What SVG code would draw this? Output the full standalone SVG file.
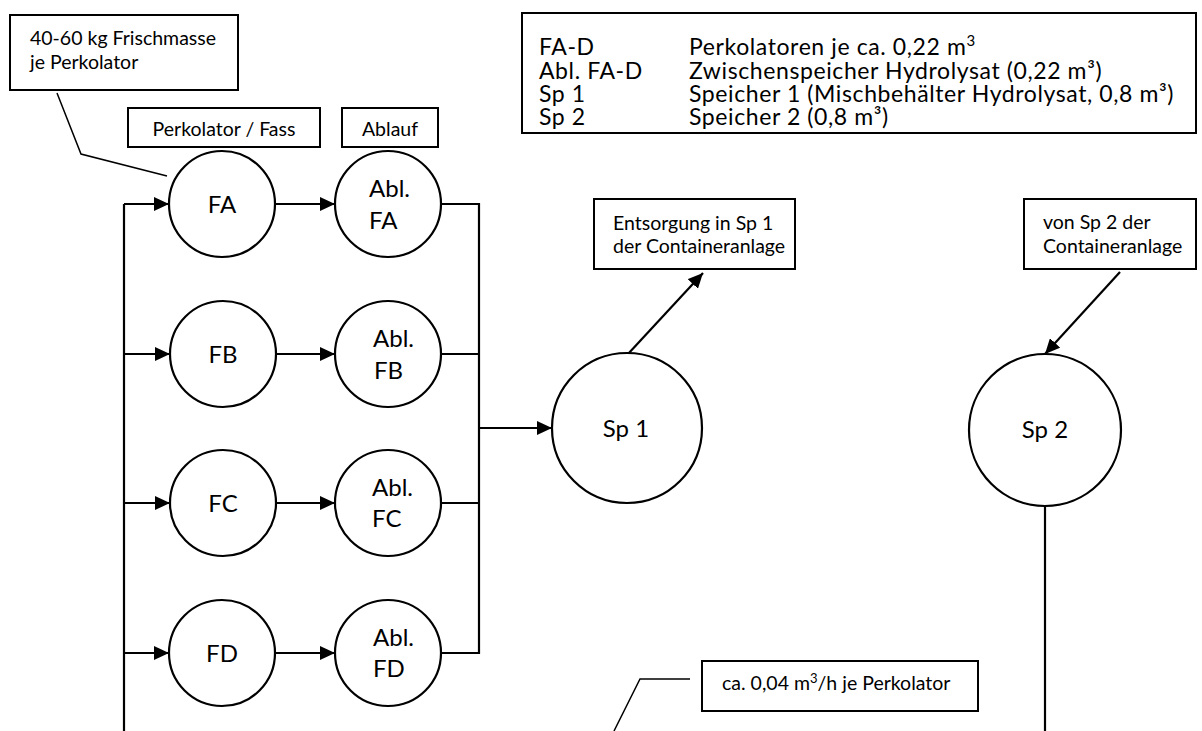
<svg xmlns="http://www.w3.org/2000/svg" width="1202" height="731" viewBox="0 0 1202 731">
<style>
.bx{fill:#fff;stroke:#000;stroke-width:2}
.nd{fill:#fff;stroke:#000;stroke-width:2.2}
.ln{fill:none;stroke:#000;stroke-width:2.2}
.lt{fill:none;stroke:#000;stroke-width:1.5}
text{font-family:Lato,"Liberation Sans",sans-serif;fill:#000}
.lb{font-size:19.5px}
.nt{font-size:24px}
.lg{font-size:23px;letter-spacing:0.6px}
.c{text-anchor:middle}
</style>
<defs>
<marker id="ah" markerUnits="userSpaceOnUse" markerWidth="16" markerHeight="14" refX="15" refY="7" orient="auto">
<path d="M0,0 L15,7 L0,14 Z" fill="#000"/>
</marker>
</defs>
<g id="connectors">
<polyline class="lt" points="57,93 81,154 167,176"/>
<polyline class="lt" points="690,679 640,679 614,731"/>
<line class="ln" x1="124" y1="204" x2="124" y2="731"/>
<line class="ln" x1="124" y1="204" x2="169" y2="204" marker-end="url(#ah)"/>
<line class="ln" x1="124" y1="354" x2="170" y2="354" marker-end="url(#ah)"/>
<line class="ln" x1="124" y1="503" x2="170" y2="503" marker-end="url(#ah)"/>
<line class="ln" x1="124" y1="653" x2="169" y2="653" marker-end="url(#ah)"/>
<line class="ln" x1="275" y1="204" x2="335" y2="204" marker-end="url(#ah)"/>
<line class="ln" x1="276" y1="354" x2="335" y2="354" marker-end="url(#ah)"/>
<line class="ln" x1="276" y1="503" x2="335" y2="503" marker-end="url(#ah)"/>
<line class="ln" x1="275" y1="653" x2="335" y2="653" marker-end="url(#ah)"/>
<polyline class="ln" points="441,204 479,204 479,653 441,653"/>
<line class="ln" x1="441" y1="354" x2="479" y2="354"/>
<line class="ln" x1="441" y1="503" x2="479" y2="503"/>
<line class="ln" x1="479" y1="428" x2="552" y2="428" marker-end="url(#ah)"/>
<line class="ln" x1="628" y1="354" x2="703" y2="273" marker-end="url(#ah)"/>
<line class="ln" x1="1120" y1="272" x2="1045" y2="354" marker-end="url(#ah)"/>
<line class="ln" x1="1045" y1="506" x2="1045" y2="731"/>
</g>
<g id="label-frischmasse">
<rect class="bx" x="10" y="15" width="228" height="75"/>
<text class="lb" x="30" y="45">40-60 kg Frischmasse</text>
<text class="lb" x="30" y="69">je Perkolator</text>
</g>
<g id="label-perkolator">
<rect class="bx" x="128" y="108" width="192" height="39"/>
<text class="lb c" x="224" y="136">Perkolator / Fass</text>
</g>
<g id="label-ablauf">
<rect class="bx" x="342" y="108" width="96" height="39"/>
<text class="lb c" x="390" y="136">Ablauf</text>
</g>
<g id="legend">
<rect class="bx" x="522" y="13" width="674" height="120"/>
<text class="lg" x="539" y="55">FA-D</text>
<text class="lg" x="689" y="55">Perkolatoren je ca. 0,22 m<tspan dy="-9" font-size="15">3</tspan></text>
<text class="lg" x="539" y="79">Abl. FA-D</text>
<text class="lg" x="689" y="79">Zwischenspeicher Hydrolysat (0,22 m³)</text>
<text class="lg" x="539" y="102">Sp 1</text>
<text class="lg" x="689" y="102">Speicher 1 (Mischbehälter Hydrolysat, 0,8 m³)</text>
<text class="lg" x="539" y="125">Sp 2</text>
<text class="lg" x="689" y="125">Speicher 2 (0,8 m³)</text>
</g>
<g id="FA"><circle class="nd" cx="222" cy="204" r="53"/><text class="nt c" x="222" y="213">FA</text></g>
<g id="FB"><circle class="nd" cx="223" cy="354" r="53"/><text class="nt c" x="223" y="363">FB</text></g>
<g id="FC"><circle class="nd" cx="223" cy="503" r="53"/><text class="nt c" x="223" y="512">FC</text></g>
<g id="FD"><circle class="nd" cx="222" cy="653" r="53"/><text class="nt c" x="222" y="662">FD</text></g>
<g id="AblFA"><circle class="nd" cx="388" cy="204" r="53"/><text class="nt" x="369" y="197">Abl.</text><text class="nt" x="369" y="229">FA</text></g>
<g id="AblFB"><circle class="nd" cx="388" cy="354" r="53"/><text class="nt" x="373" y="347">Abl.</text><text class="nt" x="374" y="379">FB</text></g>
<g id="AblFC"><circle class="nd" cx="388" cy="503" r="53"/><text class="nt" x="372" y="496">Abl.</text><text class="nt" x="372" y="527">FC</text></g>
<g id="AblFD"><circle class="nd" cx="388" cy="653" r="53"/><text class="nt" x="373" y="646">Abl.</text><text class="nt" x="373" y="677">FD</text></g>
<g id="Sp1"><circle class="nd" cx="627" cy="428" r="75"/><text class="nt c" x="626" y="437">Sp 1</text></g>
<g id="Sp2"><circle class="nd" cx="1045" cy="430" r="76"/><text class="nt c" x="1045" y="438">Sp 2</text></g>
<g id="label-entsorgung">
<rect class="bx" x="594" y="199" width="201" height="70"/>
<text class="lb" x="613" y="230">Entsorgung in Sp 1</text>
<text class="lb" x="613" y="253">der Containeranlage</text>
</g>
<g id="label-vonsp2">
<rect class="bx" x="1024" y="199" width="172" height="70"/>
<text class="lb" x="1043" y="229">von Sp 2 der</text>
<text class="lb" x="1043" y="253">Containeranlage</text>
</g>
<g id="label-rate">
<rect class="bx" x="702" y="661" width="276" height="50"/>
<text class="lb" x="722" y="690">ca. 0,04 m<tspan dy="-7" font-size="13">3</tspan><tspan dy="7">/h je Perkolator</tspan></text>
</g>
</svg>
